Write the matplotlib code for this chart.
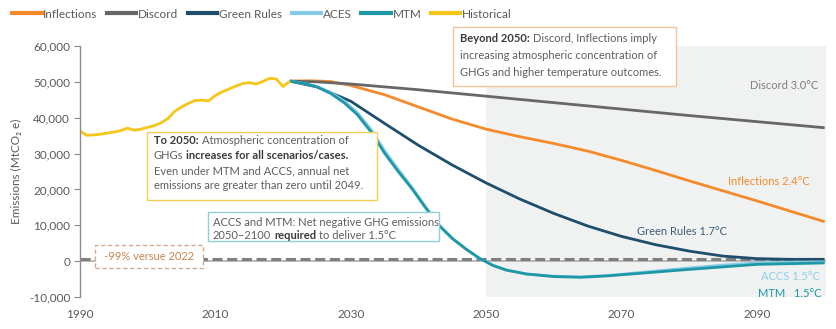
import matplotlib
matplotlib.use("Agg")
import matplotlib.pyplot as plt
import numpy as np
from matplotlib.patches import Rectangle
from matplotlib.lines import Line2D

plt.rcParams['font.family'] = ['Lato', 'DejaVu Sans']

W, H = 836, 329

# ---- data (MtCO2e) ----
hist_years = list(range(1990, 2022))
hist_vals = [36300, 35100, 35200, 35400, 35700, 36000, 36400, 37100, 36500, 36800,
             37300, 37800, 38600, 39800, 41800, 43000, 44000, 44800, 44900, 44700,
             46200, 47200, 48000, 48800, 49500, 49800, 49400, 50100, 51000, 50800,
             48700, 50200]

discord_years = [2021, 2025, 2030, 2035, 2040, 2050, 2060, 2070, 2080, 2090, 2100]
discord_vals = [50200, 50000, 49400, 48600, 47800, 46000, 44200, 42400, 40600, 38900, 37200]

infl_years = [2021, 2024, 2027, 2030, 2035, 2040, 2045, 2050, 2055, 2060, 2065,
              2070, 2075, 2080, 2085, 2090, 2095, 2100]
infl_vals = [50200, 50300, 50100, 49000, 46400, 43000, 39600, 36800, 34700, 32800,
             30700, 28100, 25300, 22400, 19600, 16800, 13900, 11000]

green_years = [2021, 2025, 2030, 2035, 2040, 2045, 2050, 2055, 2060, 2065, 2070,
               2075, 2080, 2085, 2090, 2095, 2100]
green_vals = [50200, 48600, 44600, 38400, 32300, 26800, 21800, 17300, 13300, 9800,
              6900, 4600, 2800, 1400, 700, 500, 500]

nz_years = [2021, 2023, 2025, 2027, 2029, 2031, 2033, 2035, 2037, 2039, 2041, 2043,
            2045, 2047, 2049, 2051, 2053, 2056, 2060, 2064, 2068, 2072, 2076, 2080,
            2085, 2090, 2095, 2100]
mtm_vals = [50200, 49600, 48600, 46800, 44200, 40800, 36000, 30100, 25000, 20300,
            15000, 10000, 6300, 3400, 800, -1200, -2500, -3600, -4300, -4500,
            -4100, -3500, -2900, -2300, -1600, -900, -700, -500]
aces_vals = [50200, 49600, 48700, 47100, 44700, 41400, 36700, 30800, 25600, 20700,
             15300, 10200, 6400, 3400, 800, -1200, -2500, -3600, -4200, -4400,
             -4000, -3300, -2600, -1900, -1100, -500, -300, -200]

series_names = ["Inflections", "Discord", "Green Rules", "ACES", "MTM", "Historical"]
series_colors = ["#F58A2A", "#676767", "#1D4E6C", "#86CBE6", "#1E98A6", "#F5C518"]

end_labels = ["Discord 3.0°C", "Inflections 2.4°C", "Green Rules 1.7°C",
              "ACCS 1.5°C", "MTM   1.5°C"]

base_year = 2022
reduction = 0.99

# ---- figure ----
fig = plt.figure(figsize=(W / 100, H / 100), dpi=100)
ax = fig.add_axes([80 / W, 1 - 297 / H, (826 - 80) / W, (297 - 46) / H])
ax.set_xlim(1990, 2100.2)
ax.set_ylim(-10000, 60000)

ax.axvspan(2050, 2100.2, color="#F0F1F1", lw=0, zorder=0)
ax.axhline(0, color="#A8A8A8", lw=1.1, zorder=1)

base_val = np.interp(base_year, nz_years, mtm_vals)
target = base_val * (1 - reduction)
ax.axhline(target, color="#7F7F7F", lw=2.2, dashes=(3.3, 1.5), zorder=1.5)

data = [(infl_years, infl_vals), (discord_years, discord_vals), (green_years, green_vals),
        (nz_years, aces_vals), (nz_years, mtm_vals), (hist_years, hist_vals)]
for (xs, ys), name, col in zip(data, series_names, series_colors):
    ax.plot(xs, ys, color=col, lw=2.0, solid_capstyle="butt", zorder=2, label=name)

for s in ("top", "right", "bottom"):
    ax.spines[s].set_visible(False)
ax.spines["left"].set_color("#8C8C8C")
ax.spines["left"].set_linewidth(1.0)

ax.set_yticks(np.arange(-10000, 60001, 10000))
ax.yaxis.set_major_formatter(matplotlib.ticker.FuncFormatter(lambda v, p: f"{int(v):,}"))
ax.set_xticks([1990, 2010, 2030, 2050, 2070, 2090])
ax.tick_params(axis="y", direction="out", length=4, color="#8C8C8C",
               labelcolor="#595959", labelsize=8.5, pad=3)
ax.tick_params(axis="x", length=0, labelcolor="#595959", labelsize=8.5, pad=9)
ax.set_ylabel("Emissions (MtCO₂ e)", color="#595959", fontsize=8.5, labelpad=5)

# end-of-line labels
label_pos = [(2099.0, 49100), (2097.8, 22350), (2085.6, 8130), (2099.3, -4400), (2099.6, -9160)]
label_cols = ["#7F7F7F", "#F58A2A", "#3E5E78", "#8FD0E6", "#1E98A6"]
for txt, (x, y), c in zip(end_labels, label_pos, label_cols):
    ax.text(x, y, txt, color=c, fontsize=8, ha="right", va="center", zorder=3)

# legend
handles = [Line2D([], [], color=c, lw=3) for c in series_colors]
fig.legend(handles, series_names, loc="center left", bbox_to_anchor=(12 / W, 1 - 14 / H),
           ncol=6, frameon=False, fontsize=8.5, handlelength=2.5, handletextpad=0.15,
           columnspacing=0.8, borderpad=0, borderaxespad=0, labelcolor="#595959")


# ---- annotation boxes (pixel layout) ----
def fx(x):
    return x / W


def fy(y):
    return 1 - y / H


renderer = fig.canvas.get_renderer()


def text_width(s, weight, size):
    t = fig.text(0, 0, "x" + s + "x", fontsize=size, fontweight=weight)
    t2 = fig.text(0, 0, "xx", fontsize=size, fontweight=weight)
    w = t.get_window_extent(renderer).width - t2.get_window_extent(renderer).width
    t.remove()
    t2.remove()
    return w


def box(x0, y0, x1, y1, edge, ls="-"):
    fig.patches.append(Rectangle((fx(x0), fy(y1)), fx(x1) - fx(x0), fy(y0) - fy(y1),
                                 transform=fig.transFigure, facecolor="white",
                                 edgecolor=edge, lw=1.0, linestyle=ls, zorder=4))


def rich_line(x, y, parts, size=8):
    space = text_width(" ", "normal", size)
    cx = x
    for s, bold in parts:
        w = "bold" if bold else "normal"
        fig.text(fx(cx), fy(y), s, fontsize=size, fontweight=w,
                 color="#3A3A3A" if bold else "#5E5E5E", ha="left", va="center", zorder=5)
        cx += text_width(s, w, size) + space


box(147, 132, 377, 200, "#F3CF55")
rich_line(154, 141, [("To 2050:", True), ("Atmospheric concentration of", False)])
rich_line(154, 156, [("GHGs", False), ("increases for all scenarios/cases.", True)])
rich_line(154, 170.5, [("Even under MTM and ACCS, annual net", False)])
rich_line(154, 185, [("emissions are greater than zero until 2049.", False)])

box(453, 27, 676, 86, "#F2C29C")
rich_line(460, 39, [("Beyond 2050:", True), ("Discord, Inflections imply", False)])
rich_line(460, 55.5, [("increasing atmospheric concentration of", False)])
rich_line(460, 72, [("GHGs and higher temperature outcomes.", False)])

box(208, 212, 439, 241, "#8FCFD6")
rich_line(213, 222.5, [("ACCS and MTM: Net negative GHG emissions", False)])
rich_line(213, 235.5, [("2050–2100", False), ("required", True), ("to deliver 1.5°C", False)])

box(95, 245, 203, 268, "#D4A88A", ls=(0, (3, 2)))
fig.text(fx(149), fy(256.5), f"-{reduction:.0%} versue {base_year}", fontsize=8,
         color="#C98550", ha="center", va="center", zorder=5)

fig.savefig("out.png", dpi=100)
